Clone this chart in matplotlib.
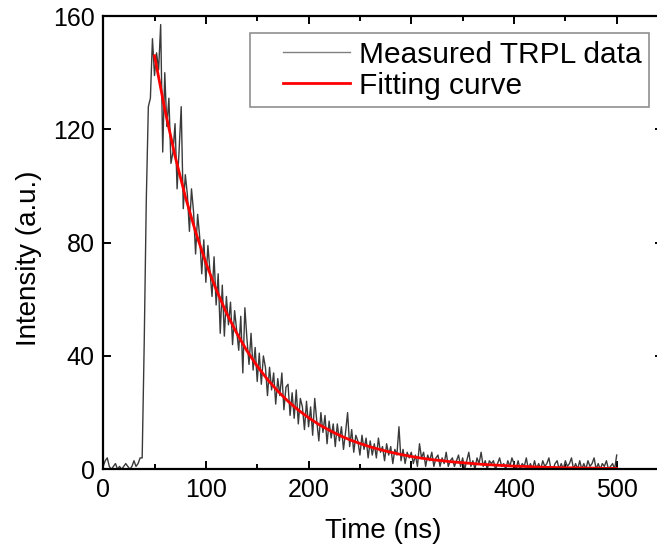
import numpy as np
import matplotlib
matplotlib.use('Agg')
import matplotlib.pyplot as plt
from matplotlib.ticker import MultipleLocator
from matplotlib.legend_handler import HandlerLine2D

plt.rcParams['font.family'] = ['Liberation Sans', 'DejaVu Sans']

# Measured TRPL trace, one sample every 2 ns from 0 to 500 ns
time_ns = np.arange(0, 502, 2)
measured = [
    # 0 - 38 ns (baseline)
    1, 3, 4, 1, 0, 1, 2, 0, 1, 0, 1, 2, 1, 0, 1, 3, 1, 2, 4, 4,
    # 40 - 58 ns (rise and peak)
    45, 95, 128, 131, 152, 139, 147, 141, 157, 112,
    # 60 - 98
    140, 121, 131, 108, 112, 122, 99, 113, 128, 92,
    104, 97, 84, 99, 91, 76, 90, 82, 69, 81,
    # 100 - 138
    66, 79, 70, 61, 75, 58, 69, 48, 65, 47,
    61, 51, 59, 44, 56, 49, 42, 54, 34, 57,
    # 140 - 178
    46, 37, 48, 35, 43, 31, 41, 30, 40, 36,
    26, 36, 28, 34, 23, 32, 26, 34, 21, 29,
    # 180 - 218
    30, 19, 27, 18, 28, 16, 25, 22, 14, 24,
    15, 22, 12, 25, 17, 10, 20, 13, 19, 9,
    # 220 - 258
    17, 11, 16, 8, 16, 10, 15, 7, 13, 20,
    8, 14, 6, 12, 10, 5, 12, 7, 11, 4,
    # 260 - 298
    10, 5, 9, 4, 11, 6, 8, 3, 9, 5,
    8, 2, 7, 5, 15, 3, 7, 2, 6, 4,
    # 300 - 338
    6, 2, 5, 1, 9, 4, 6, 1, 5, 3,
    6, 1, 4, 5, 1, 4, 2, 6, 1, 3,
    # 340 - 378
    4, 1, 3, 5, 1, 4, 0, 3, 6, 1,
    3, 0, 4, 2, 6, 1, 3, 0, 3, 2,
    # 380 - 418
    3, 0, 2, 4, 1, 2, 0, 3, 1, 4,
    2, 0, 3, 0, 2, 1, 4, 0, 2, 0,
    # 420 - 458
    3, 0, 2, 0, 3, 1, 2, 4, 0, 0,
    2, 3, 0, 2, 0, 3, 1, 2, 4, 0,
    # 460 - 500
    2, 0, 3, 0, 2, 0, 3, 1, 2, 4,
    0, 2, 0, 2, 1, 3, 0, 1, 2, 0, 5,
]

# Fitted decay curve, read every 10 ns from 50 to 500 ns
fit_time_ns = np.arange(50, 510, 10)
fit_values = [
    146, 127.1, 110.6, 96.3, 83.8, 72.9, 63.5, 55.2, 48.1, 41.8,
    36.4, 31.7, 27.6, 24.0, 20.9, 18.2, 15.8, 13.8, 12.0, 10.4,
    9.1, 7.9, 6.9, 6.0, 5.2, 4.5, 3.9, 3.4, 3.0, 2.6,
    2.3, 2.0, 1.7, 1.5, 1.3, 1.1, 1.0, 0.8, 0.7, 0.6,
    0.5, 0.5, 0.4, 0.4, 0.3, 0.3,
]


class OffsetLineHandler(HandlerLine2D):
    # draw the legend line only in the right part of a wider handle box
    def get_xdata(self, legend, xdescent, ydescent, width, height, fontsize):
        x1 = width - xdescent
        x0 = x1 - 2.24 * fontsize
        return np.array([x0, x1]), np.array([(x0 + x1) / 2])


fig = plt.figure(figsize=(6.57, 5.54), dpi=100)
# right spine sits just past the canvas edge, only the inward right ticks show
ax = fig.add_axes([0.157, 0.153, 0.852, 0.818])

ax.plot(time_ns, measured, color='#3a3a3a', lw=1.0, label='Measured TRPL data')
ax.plot(fit_time_ns, fit_values, color='red', lw=2, label='Fitting curve')

ax.set_xlim(0, 545)
ax.set_ylim(0, 160)
ax.xaxis.set_major_locator(MultipleLocator(100))
ax.xaxis.set_minor_locator(MultipleLocator(50))
ax.yaxis.set_major_locator(MultipleLocator(40))

ax.tick_params(which='both', direction='in', top=True, right=True, width=1.4)
ax.tick_params(which='major', length=6, labelsize=18, pad=6)
ax.tick_params(which='minor', length=3.5)
for spine in ax.spines.values():
    spine.set_linewidth(1.6)
ax.spines['right'].set_visible(False)

ax.set_xlabel('Time (ns)', fontsize=20, labelpad=12)
ax.set_ylabel('Intensity (a.u.)', fontsize=20, labelpad=8, y=0.465)

leg = ax.legend(loc='upper right', bbox_to_anchor=(0.975, 0.9625), fontsize=21.5,
                frameon=True, fancybox=False, framealpha=1, edgecolor='#909090',
                handlelength=3.08, handletextpad=0.3, labelspacing=0.1,
                borderpad=0.25, borderaxespad=0,
                handler_map={plt.Line2D: OffsetLineHandler()})
leg.get_frame().set_linewidth(1.2)
leg.legend_handles[0].set_color('#808080')

fig.savefig('out.png', dpi=100)
